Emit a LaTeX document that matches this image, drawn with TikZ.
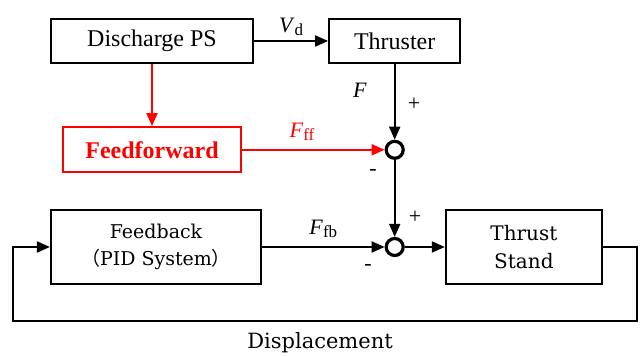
\documentclass[tikz,border=0pt]{standalone}
\usepackage{fontspec}
\setmainfont{Liberation Serif}
\newfontfamily\cambria{DejaVu Serif}
\newfontfamily\cjk{Noto Sans CJK SC}
\usepackage{tikz}
\usetikzlibrary{arrows.meta, positioning}

\newcommand{\sublbl}[2]{\textit{#1}\raisebox{-0.35ex}{\fontsize{8.5}{9}\selectfont #2}}

\begin{document}
\begin{tikzpicture}[
    x=0.5pt, y=-0.5pt,
    every node/.style={font=\fontsize{12}{14}\selectfont},
    block/.style={draw, line width=1.1pt, inner sep=0pt, align=center},
    ffblock/.style={block, draw=red, text=red, line width=1.2pt,
                    font=\fontsize{12}{14}\selectfont\bfseries},
    plant/.style={block, font=\fontsize{10}{14}\selectfont\cambria},
    sum/.style={draw, circle, line width=1.6pt, minimum size=8.5pt, inner sep=0pt},
    arr/.style={-{Triangle[length=6.5pt,width=5.5pt]}, line width=1pt},
    lbl/.style={font=\fontsize{11}{13}\selectfont, inner sep=0pt},
  ]
  \useasboundingbox (0,0) rectangle (640,356);

  \node[block, minimum width=101pt, minimum height=22pt] (dps) at (152,41) {Discharge PS};
  \node[block, minimum width=65.5pt, minimum height=22pt, right=37pt of dps] (thr) {Thruster};
  \node[ffblock, minimum width=89pt, minimum height=22.5pt, below=31pt of dps] (ff) {Feedforward};
  \node[sum] (s1) at (thr |- ff) {};
  \node[plant, minimum width=105pt, minimum height=37pt, font=\fontsize{9.5}{13.5}\selectfont\cambria]
    (fb) at (156,247) {Feedback\\{\cjk （}PID System{\cjk ）}};
  \node[sum] (s2) at (s1 |- fb) {};
  \node[plant, minimum width=78pt, minimum height=37pt, right=20pt of s2] (ts) {Thrust\\Stand};

  \draw[arr] (dps) -- (thr) node[lbl, midway, above=2pt] (vd) {\sublbl{V}{d}};
  \draw[arr, red] (dps) -- (ff);
  \draw[arr] (thr) -- (s1);
  \draw[arr, red] (ff) -- (s1) node[lbl, pos=0.42, above=4pt, text=red] (fff) {\sublbl{F}{ff}};
  \draw[arr] (s1) -- (s2);
  \draw[arr] (fb) -- (s2) node[lbl, midway, above=4pt] (ffb) {\sublbl{F}{fb}};
  \draw[arr] (s2) -- (ts);

  % feedback loop
  \draw[arr] (ts.east) -- ++(34,0) -- ++(0,74) -| ([xshift=-18.5pt]fb.west) -- (fb.west);
  \node[font=\fontsize{10.5}{13}\selectfont\cambria] (disp) at (320,343) {Displacement};

  % signs
  \node[lbl] (flbl) at (360,90) {\textit{F}};
  \node[lbl] (p1) at (414,104) {+};
  \node[lbl] (m1) at (373,173) {-};
  \node[lbl] (p2) at (415,217) {+};
  \node[lbl] (m2) at (368,267) {-};
\end{tikzpicture}
\end{document}
